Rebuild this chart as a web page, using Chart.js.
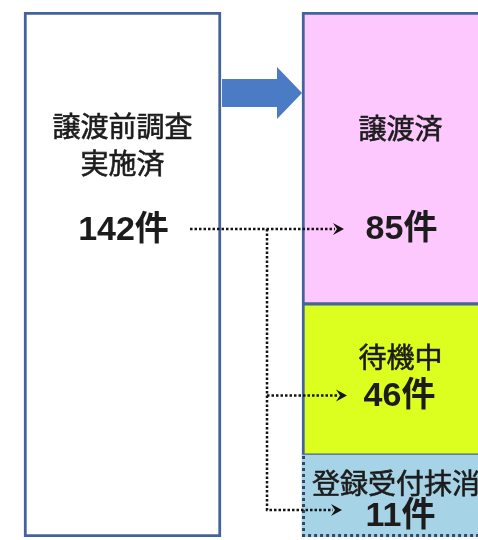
<!DOCTYPE html>
<html>
<head>
<meta charset="utf-8">
<script src="https://cdn.jsdelivr.net/npm/chart.js@4.4.1/dist/chart.umd.min.js"></script>
<style>
  body { margin: 0; background: #fff; }
  #wrap { width: 478px; height: 540px; }
</style>
</head>
<body>
<div id="wrap"><canvas id="flowChart"></canvas></div>
<script>
// 譲渡前調査 → 結果の内訳
const stageNames = ["譲渡前調査実施済", "譲渡済", "待機中", "登録受付抹消"];
const stageCounts = [142, 85, 46, 11];
const countUnit = "件";

const colors = {
  frame: "#44639b",
  total: "#ffffff",
  done: "#fdc8fd",
  waiting: "#dcff1f",
  removed: "#a7d3e6",
  arrow: "#4a7bc4",
  text: "#1c1c1c"
};

// 縦軸: 区切りごとに区間を伸縮させるスケール (小さい区画にも文字が入るように)
class SchematicScale extends Chart.LinearScale {
  static id = "schematic";
  static defaults = Chart.LinearScale.defaults;

  toDecimal(v) {
    const stops = this.options.stops;
    if (v <= stops[0][0]) return stops[0][1];
    for (let i = 1; i < stops.length; i++) {
      const [v0, d0] = stops[i - 1];
      const [v1, d1] = stops[i];
      if (v <= v1) return d0 + (v - v0) / (v1 - v0) * (d1 - d0);
    }
    return stops[stops.length - 1][1];
  }
  getPixelForValue(v) {
    if (v === null || v === undefined || isNaN(v)) return NaN;
    return this.getPixelForDecimal(this.toDecimal(v));
  }
  getValueForPixel(p) {
    const d = this.getDecimalForPixel(p);
    const stops = this.options.stops;
    for (let i = 1; i < stops.length; i++) {
      const [v0, d0] = stops[i - 1];
      const [v1, d1] = stops[i];
      if (d <= d1) return v0 + (d - d0) / (d1 - d0) * (v1 - v0);
    }
    return stops[stops.length - 1][0];
  }
}
Chart.register(SchematicScale);

const c = stageCounts;
const yStops = [[0, 0], [c[3], 0.156], [c[3] + c[2], 0.444], [c[0], 1]];

const dotted = (ctx, pts) => {
  ctx.beginPath();
  ctx.moveTo(pts[0][0], pts[0][1]);
  for (let i = 1; i < pts.length; i++) ctx.lineTo(pts[i][0], pts[i][1]);
  ctx.stroke();
};
const headAt = (ctx, x, y) => {
  ctx.beginPath();
  ctx.moveTo(x, y);
  ctx.lineTo(x - 11, y - 6);
  ctx.lineTo(x - 7, y);
  ctx.lineTo(x - 11, y + 6);
  ctx.closePath();
  ctx.fill();
};
// 少し太めに見せる
const label = (ctx, text, x, y) => {
  ctx.fillText(text, x, y);
  ctx.strokeText(text, x, y);
};

const diagramPlugin = {
  id: "diagram",
  afterDatasetsDraw(chart) {
    const ctx = chart.ctx;
    const left = chart.getDatasetMeta(0).data[0];
    const removed = chart.getDatasetMeta(1).data[0];
    const waiting = chart.getDatasetMeta(2).data[0];
    const done = chart.getDatasetMeta(3).data[0];
    const leftR = left.x + left.width / 2;
    const rightL = done.x - done.width / 2;
    const top = chart.chartArea.top;

    ctx.save();
    // 抹消枠の点線
    ctx.strokeStyle = "#33476e";
    ctx.lineWidth = 3;
    ctx.setLineDash([3, 3]);
    const rl = removed.x - removed.width / 2 + 1.5;
    dotted(ctx, [[rl, removed.y + 1], [rl, removed.base - 1.5], [removed.x + removed.width / 2, removed.base - 1.5]]);

    // 大きい矢印
    ctx.setLineDash([]);
    ctx.fillStyle = colors.arrow;
    const ay = top + 81;
    ctx.beginPath();
    ctx.moveTo(leftR + 1, ay - 14);
    ctx.lineTo(rightL - 25, ay - 14);
    ctx.lineTo(rightL - 25, ay - 26);
    ctx.lineTo(rightL, ay);
    ctx.lineTo(rightL - 25, ay + 26);
    ctx.lineTo(rightL - 25, ay + 14);
    ctx.lineTo(leftR + 1, ay + 14);
    ctx.closePath();
    ctx.fill();

    // 点線の接続
    const y1 = done.y + 217, y2 = (waiting.y + waiting.base) / 2 + 16, y3 = removed.base - 27;
    const vx = leftR + 46;
    ctx.strokeStyle = "#141414";
    ctx.fillStyle = "#141414";
    ctx.lineWidth = 2.5;
    ctx.setLineDash([2.5, 2]);
    dotted(ctx, [[leftR - 31, y1], [rightL + 33, y1]]);
    dotted(ctx, [[vx, y1], [vx, y3], [rightL + 31, y3]]);
    dotted(ctx, [[vx, y2], [rightL + 36, y2]]);
    ctx.setLineDash([]);
    headAt(ctx, rightL + 42, y1);
    headAt(ctx, rightL + 45, y2);
    headAt(ctx, rightL + 40, y3);

    // 文字
    ctx.fillStyle = colors.text;
    ctx.strokeStyle = colors.text;
    ctx.lineWidth = 0.6;
    ctx.textAlign = "center";
    ctx.textBaseline = "middle";
    const cjk = '28px "Noto Sans CJK JP", sans-serif';
    const num = 'bold 34px "Liberation Sans", "Noto Sans CJK JP", sans-serif';
    ctx.font = cjk;
    label(ctx, stageNames[0].slice(0, 5), left.x, left.y + 114);
    label(ctx, stageNames[0].slice(5), left.x, left.y + 151);
    label(ctx, stageNames[1], done.x, done.y + 116);
    const wc = (waiting.y + waiting.base) / 2;
    label(ctx, stageNames[2], done.x, wc - 22);
    ctx.textAlign = "left";
    label(ctx, stageNames[3], rightL + 10, removed.y + 28);
    ctx.textAlign = "center";
    ctx.font = num;
    ctx.fillText(stageCounts[0] + countUnit, left.x + 1, left.y + 219);
    ctx.fillText(stageCounts[1] + countUnit, done.x + 1, done.y + 218);
    ctx.fillText(stageCounts[2] + countUnit, done.x - 1, wc + 17);
    ctx.fillText(stageCounts[3] + countUnit, done.x, removed.base - 20);
    ctx.restore();
  }
};

const config = {
  type: "bar",
  data: {
    datasets: [
      {
        label: stageNames[0],
        data: [{ x: 0, y: stageCounts[0] }],
        backgroundColor: colors.total,
        borderColor: colors.frame,
        borderWidth: 3,
        borderSkipped: false
      },
      {
        label: stageNames[3],
        data: [{ x: 1, y: stageCounts[3] }],
        backgroundColor: colors.removed,
        borderWidth: 0
      },
      {
        label: stageNames[2],
        data: [{ x: 1, y: stageCounts[2] }],
        backgroundColor: colors.waiting,
        borderColor: colors.frame,
        borderWidth: { top: 2, left: 3, right: 3, bottom: 2 },
        borderSkipped: false
      },
      {
        label: stageNames[1],
        data: [{ x: 1, y: stageCounts[1] }],
        backgroundColor: colors.done,
        borderColor: colors.frame,
        borderWidth: { top: 3, left: 3, right: 3, bottom: 2 },
        borderSkipped: false
      }
    ]
  },
  options: {
    responsive: true,
    maintainAspectRatio: false,
    animation: false,
    layout: { padding: { top: 12, bottom: 3, left: 0, right: 0 } },
    datasets: { bar: { barThickness: 197 } },
    scales: {
      x: { type: "linear", stacked: true, display: false, offset: false, grid: { offset: false }, min: -0.4407, max: 1.2788 },
      y: { type: "schematic", stacked: true, display: false, min: 0, max: stageCounts[0], stops: yStops }
    },
    plugins: {
      legend: { display: false },
      tooltip: { enabled: false }
    }
  },
  plugins: [diagramPlugin]
};

const flowChart = new Chart(document.getElementById("flowChart"), config);
</script>
</body>
</html>
